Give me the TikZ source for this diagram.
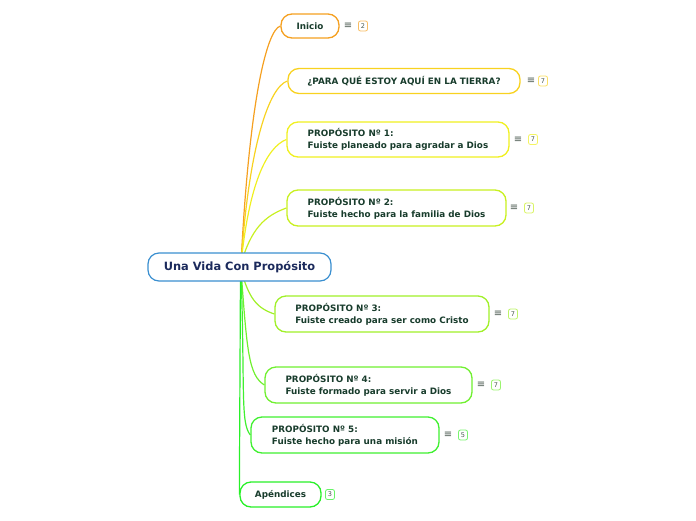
\documentclass[tikz,border=0pt]{standalone}
\usepackage{fontspec}
\setmainfont{DejaVu Sans}
\usetikzlibrary{backgrounds}
\definecolor{cIni}{HTML}{F5A020}
\definecolor{cPara}{HTML}{F8D220}
\definecolor{cPa}{HTML}{F0F020}
\definecolor{cPb}{HTML}{C8F020}
\definecolor{cPc}{HTML}{A0F028}
\definecolor{cPd}{HTML}{70F030}
\definecolor{cPe}{HTML}{40F030}
\definecolor{cApe}{HTML}{28F028}
\definecolor{rootb}{HTML}{3A8FD0}
\definecolor{roott}{HTML}{1B2A5C}
\definecolor{txt}{HTML}{183C2C}
\definecolor{icon}{HTML}{4A5A50}
\begin{document}
\begin{tikzpicture}[x=1pt,y=-1pt,
  topic/.style={draw=#1, line width=1.3pt, fill=white, rounded corners=11pt,
    font=\bfseries\fontsize{8.8}{12}\selectfont, text=txt, align=left, inner sep=0pt},
  conn/.style={draw=#1, line width=1.2pt},
  badge/.style={draw=#1!70, line width=0.8pt, rounded corners=2pt, fill=white,
    font=\fontsize{6.5}{6.5}\selectfont, text=icon, minimum width=9pt, minimum height=10pt, inner sep=0pt},
  menu/.style={font=\fontsize{10}{10}\selectfont, text=icon, inner sep=0pt}]
\useasboundingbox (0,0) rectangle (696,520);
\node[draw=rootb, line width=1.2pt, rounded corners=11pt, fill=white, minimum width=183pt,
  minimum height=28pt, font=\bfseries\fontsize{11.4}{11.4}\selectfont, text=roott, inner sep=0pt]
  (root) at (239.5,267) {Una Vida Con Propósito};

\node[topic=cIni, minimum width=58pt, minimum height=24pt] (ini) at (310,26) {Inicio};
\node[topic=cPara, minimum width=232pt, minimum height=25pt] (para) at (404,81) {¿PARA QUÉ ESTOY AQUÍ EN LA TIERRA?};
\node[topic=cPa, minimum width=222pt, minimum height=35pt] (pa) at (398,139.5) {PROPÓSITO Nº 1:\\Fuiste planeado para agradar a Dios};
\node[topic=cPb, minimum width=219pt, minimum height=36pt] (pb) at (396.5,208) {PROPÓSITO Nº 2:\\Fuiste hecho para la familia de Dios};
\node[topic=cPc, minimum width=214pt, minimum height=36pt] (pc) at (382,314) {PROPÓSITO Nº 3:\\Fuiste creado para ser como Cristo};
\node[topic=cPd, minimum width=207pt, minimum height=36pt] (pd) at (368.5,385) {PROPÓSITO Nº 4:\\Fuiste formado para servir a Dios};
\node[topic=cPe, minimum width=188pt, minimum height=36pt] (pe) at (345,435) {PROPÓSITO Nº 5:\\Fuiste hecho para una misión};
\node[topic=cApe, minimum width=81pt, minimum height=25pt] (ape) at (280.5,494.5) {Apéndices};

\node[menu] (m1) at (348,26) {≡};
\node[badge=cIni] (b1) at (363,26) {2};
\node[menu] (m2) at (531,81) {≡};
\node[badge=cPara] (b2) at (543,81) {7};
\node[menu] (m3) at (518,139.5) {≡};
\node[badge=cPa] (b3) at (533,139.5) {7};
\node[menu] (m4) at (514,208) {≡};
\node[badge=cPb] (b4) at (529,208) {7};
\node[menu] (m5) at (498,314) {≡};
\node[badge=cPc] (b5) at (513,314) {7};
\node[menu] (m6) at (481,385) {≡};
\node[badge=cPd] (b6) at (496,385) {7};
\node[menu] (m7) at (448,435) {≡};
\node[badge=cPe] (b7) at (463,435) {5};
\node[badge=cApe] (b8) at (330,494.5) {3};

\coordinate (rs) at (241,264);
\coordinate (rt) at (241,270);
\coordinate (ra) at (240.5,270);
\begin{scope}[on background layer]
\draw[conn=cIni] (rs) .. controls +(8,-160) and +(-14,4) .. (ini.west);
\draw[conn=cPara] (rs) .. controls +(8,-120) and +(-18,6) .. (para.west);
\draw[conn=cPa] (rs) .. controls +(8,-80) and +(-20,8) .. (pa.west);
\draw[conn=cPb] (rs) .. controls +(10,-35) and +(-22,8) .. (pb.west);
\draw[conn=cPc] (rt) .. controls +(8,28) and +(-18,-6) .. (pc.west);
\draw[conn=cPd] (rt) .. controls +(6,80) and +(-16,-10) .. (pd.west);
\draw[conn=cPe] (rt) .. controls +(4,120) and +(-10,-12) .. (pe.west);
\draw[conn=cApe] (ra) -- (ape.west);
\end{scope}
\end{tikzpicture}
\end{document}
